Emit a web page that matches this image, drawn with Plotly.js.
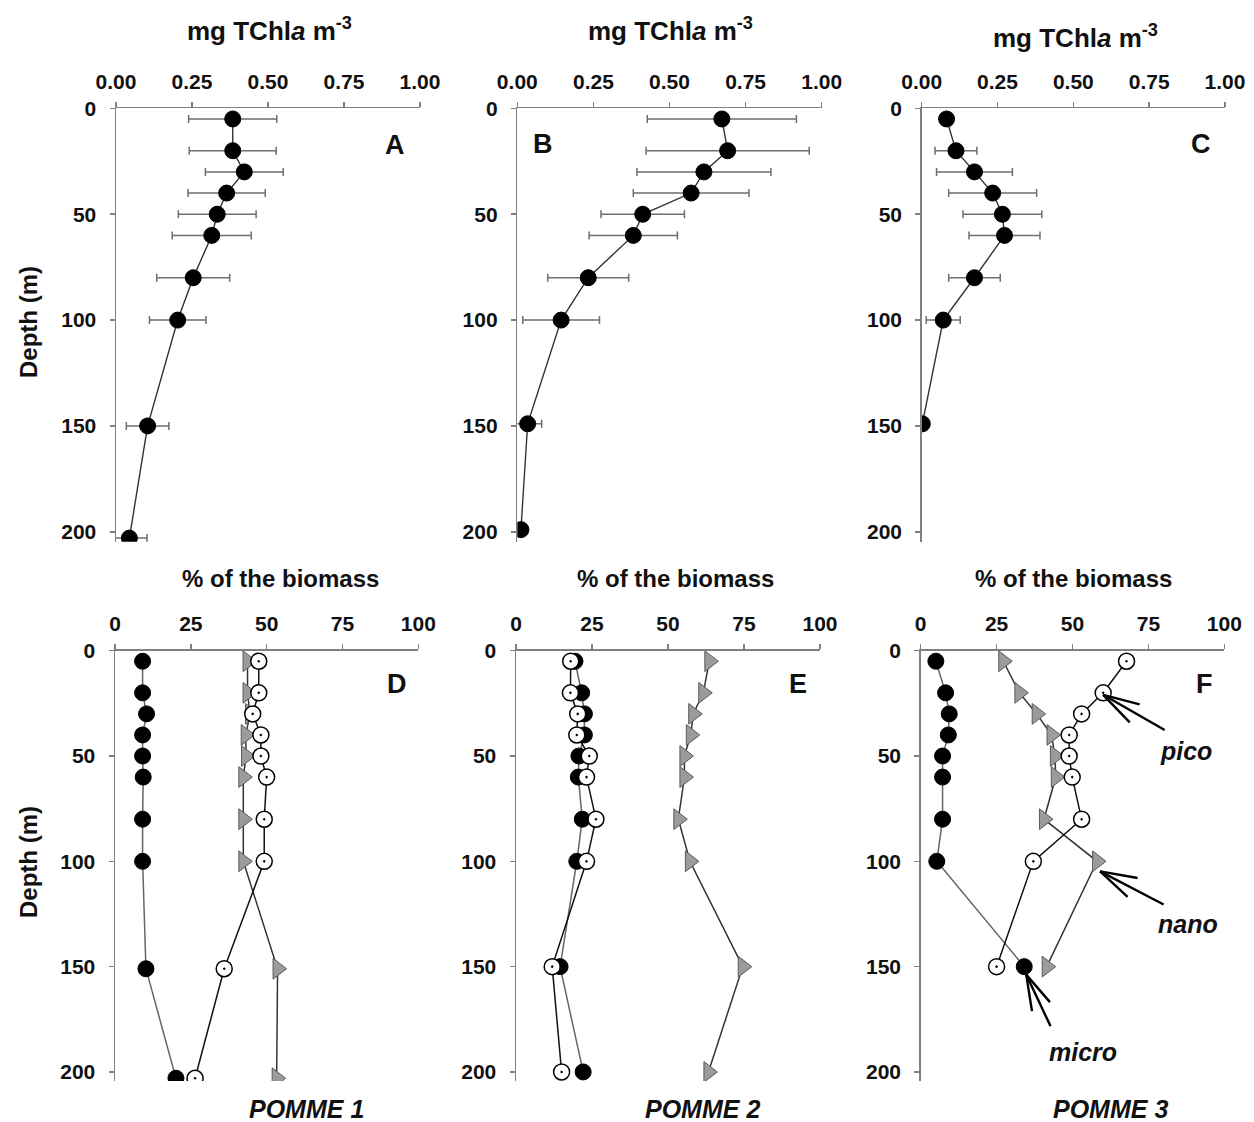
<!DOCTYPE html>
<html>
<head>
<meta charset="utf-8">
<script src="https://cdn.plot.ly/plotly-3.0.1.min.js"></script>
<style>html,body{margin:0;padding:0;background:#fff;}#chart{width:1254px;height:1122px;}</style>
</head>
<body>
<div id="chart"></div>
<script>
// ---------- DATA ----------
// Top row: total chlorophyll a (mg TChla m-3) vs depth (m), mean ± sd
const depthA = [5, 20, 30, 40, 50, 60, 80, 100, 150, 203];
const chlA   = [0.384, 0.384, 0.422, 0.364, 0.333, 0.315, 0.254, 0.203, 0.104, 0.044];
const sdA    = [0.145, 0.143, 0.128, 0.127, 0.128, 0.130, 0.120, 0.093, 0.070, 0.058];

const depthB = [5, 20, 30, 40, 50, 60, 80, 100, 149, 199];
const chlB   = [0.672, 0.691, 0.613, 0.571, 0.412, 0.381, 0.233, 0.144, 0.034, 0.012];
const sdB    = [0.245, 0.268, 0.220, 0.190, 0.137, 0.145, 0.133, 0.126, 0.046, 0];

const depthC = [5, 20, 30, 40, 50, 60, 80, 100, 149];
const chlC   = [0.082, 0.113, 0.174, 0.234, 0.266, 0.273, 0.174, 0.071, 0.002];
const sdC    = [0.020, 0.069, 0.125, 0.145, 0.130, 0.117, 0.085, 0.056, 0];

// Bottom row: % of the biomass (micro, nano, pico) vs depth (m)
const depthD = [5, 20, 30, 40, 50, 60, 80, 100, 151, 203];
const microD = [9.1, 9.1, 10.4, 9.1, 9.1, 9.3, 9.1, 9.1, 10.2, 20.1];
const nanoD  = [43.7, 43.7, 44.5, 43.1, 43.2, 42.3, 42.3, 42.3, 53.6, 53.3];
const picoD  = [47.4, 47.4, 45.4, 48.1, 48.1, 50.0, 49.2, 49.2, 36.0, 26.4];

const depthE = [5, 20, 30, 40, 50, 60, 80, 100, 150, 200];
const microE = [19.4, 21.6, 22.5, 22.5, 20.7, 20.5, 21.8, 20.0, 14.5, 22.1];
const nanoE  = [63.6, 61.6, 58.3, 57.5, 55.4, 55.4, 53.4, 57.2, 74.6, 63.3];
const picoE  = [18.0, 17.9, 20.3, 20.0, 24.1, 23.2, 26.3, 23.2, 11.9, 15.0];

const depthF = [5, 20, 30, 40, 50, 60, 80, 100, 150];
const microF = [5.0, 8.2, 9.4, 9.1, 7.2, 7.2, 7.2, 5.3, 34.1];
const nanoF  = [27.2, 32.5, 38.2, 43.1, 44.2, 44.5, 40.6, 58.1, 41.5];
const picoF  = [67.8, 60.1, 53.0, 48.9, 48.9, 49.9, 53.0, 37.1, 25.0];

const chlTicks = [0, 0.25, 0.5, 0.75, 1.0];
const pctTicks = [0, 25, 50, 75, 100];
const depthTicks = [0, 50, 100, 150, 200];
const panelLetters = ['A', 'B', 'C', 'D', 'E', 'F'];
const stationNames = ['POMME 1', 'POMME 2', 'POMME 3'];
const sizeClassLabels = ['pico', 'nano', 'micro'];

// ---------- STYLE ----------
const FONT = 'Liberation Sans, Arial, sans-serif';
const W = 1254, H = 1122;
const px = v => v / W;
const py = v => 1 - v / H;

const axisBase = {
  showgrid: false, zeroline: false, showline: true,
  linecolor: '#808080', linewidth: 1.5,
  ticks: 'outside', ticklen: 5, tickwidth: 1.5, tickcolor: '#808080',
  tickfont: { family: FONT, size: 21, color: '#111', weight: 'bold' },
  fixedrange: true
};

function xAxis(d0, d1, anchor, tickvals, fmt) {
  return Object.assign({}, axisBase, {
    domain: [px(d0), px(d1)], anchor: anchor, side: 'top',
    range: [tickvals[0], tickvals[tickvals.length - 1]],
    tickmode: 'array', tickvals: tickvals,
    ticktext: tickvals.map(v => fmt(v)),
    ticklabelstandoff: 5
  });
}
function yAxis(top, bottom, anchor, maxDepth) {
  return Object.assign({}, axisBase, {
    domain: [py(bottom), py(top)], anchor: anchor,
    range: [maxDepth, 0],
    tickmode: 'array', tickvals: depthTicks,
    ticklabelstandoff: 9
  });
}

const f2 = v => v.toFixed(2);
const f0 = v => String(v);

const lineDark = '#333';
const circleBlack = { symbol: 'circle', size: 16, color: '#000', line: { color: '#000', width: 1 } };
const circleOpen  = { symbol: 'circle-dot', size: 16, color: '#fff', line: { color: '#000', width: 1.5 } };
const triGray     = { symbol: 'triangle-right', size: 18, color: '#9b9b9b', line: { color: '#5a5a5a', width: 1 } };

function chlTrace(x, y, sd, xa, ya) {
  return {
    type: 'scatter', mode: 'lines+markers', x: x, y: y, xaxis: xa, yaxis: ya,
    line: { color: lineDark, width: 1.4 }, marker: circleBlack,
    error_x: { type: 'data', array: sd, visible: true, color: '#6e6e6e', thickness: 1.5, width: 4 },
    showlegend: false, hoverinfo: 'skip'
  };
}
function sizeTraces(depth, micro, nano, pico, xa, ya) {
  return [
    { type: 'scatter', mode: 'lines+markers', x: nano, y: depth, xaxis: xa, yaxis: ya,
      line: { color: '#333', width: 1.5 }, marker: triGray, showlegend: false, hoverinfo: 'skip' },
    { type: 'scatter', mode: 'lines+markers', x: micro, y: depth, xaxis: xa, yaxis: ya,
      line: { color: '#666', width: 1.5 }, marker: circleBlack, showlegend: false, hoverinfo: 'skip' },
    { type: 'scatter', mode: 'lines+markers', x: pico, y: depth, xaxis: xa, yaxis: ya,
      line: { color: '#111', width: 1.5 }, marker: circleOpen, showlegend: false, hoverinfo: 'skip' }
  ];
}

const data = [
  chlTrace(chlA, depthA, sdA, 'x', 'y'),
  chlTrace(chlB, depthB, sdB, 'x2', 'y2'),
  chlTrace(chlC, depthC, sdC, 'x3', 'y3'),
  ...sizeTraces(depthD, microD, nanoD, picoD, 'x4', 'y4'),
  ...sizeTraces(depthE, microE, nanoE, picoE, 'x5', 'y5'),
  ...sizeTraces(depthF, microF, nanoF, picoF, 'x6', 'y6')
];

// Panel pixel frames
const topY = [108.4, 541.7], botY = [650.7, 1081];
const colA = [116, 420], colB = [517.3, 821.7], colC = [921.7, 1225];
const colD = [115, 418.3], colE = [516, 820], colF = [920.7, 1224.3];
const topMax = 204.7, botMax = 204.3;

const layout = {
  width: W, height: H,
  margin: { l: 0, r: 0, t: 0, b: 0 },
  paper_bgcolor: '#fff', plot_bgcolor: 'rgba(0,0,0,0)',
  showlegend: false,
  xaxis:  xAxis(colA[0], colA[1], 'y',  chlTicks, f2),
  xaxis2: xAxis(colB[0], colB[1], 'y2', chlTicks, f2),
  xaxis3: xAxis(colC[0], colC[1], 'y3', chlTicks, f2),
  xaxis4: xAxis(colD[0], colD[1], 'y4', pctTicks, f0),
  xaxis5: xAxis(colE[0], colE[1], 'y5', pctTicks, f0),
  xaxis6: xAxis(colF[0], colF[1], 'y6', pctTicks, f0),
  yaxis:  yAxis(topY[0], topY[1], 'x',  topMax),
  yaxis2: yAxis(topY[0], topY[1], 'x2', topMax),
  yaxis3: yAxis(topY[0], topY[1], 'x3', topMax),
  yaxis4: yAxis(botY[0], botY[1], 'x4', botMax),
  yaxis5: yAxis(botY[0], botY[1], 'x5', botMax),
  yaxis6: yAxis(botY[0], botY[1], 'x6', botMax),
  annotations: []
};

const ann = layout.annotations;
function txt(text, x, y, size, opts) {
  ann.push(Object.assign({
    text: text, xref: 'paper', yref: 'paper', x: px(x), y: py(y),
    xanchor: 'center', yanchor: 'middle', showarrow: false,
    font: { family: FONT, size: size, color: '#111' }
  }, opts || {}));
}

// Axis titles
const chlTitle = '<b>mg TChl<i>a</i> m<sup>-3</sup></b>';
txt(chlTitle, 269, 30, 26);
txt(chlTitle, 670, 30, 26);
txt(chlTitle, 1075, 37, 26);
const pctTitle = '<b>% of the biomass</b>';
txt(pctTitle, 280, 578, 24);
txt(pctTitle, 675, 578, 24);
txt(pctTitle, 1073, 578, 24);
txt('<b>Depth (m)</b>', 28, 322, 24, { textangle: -90 });
txt('<b>Depth (m)</b>', 28, 862, 24, { textangle: -90 });

// Panel letters
const letterPos = [[395, 145], [543, 144], [1201, 144], [397, 684], [798, 684], [1204, 684]];
panelLetters.forEach((L, i) => txt('<b>' + L + '</b>', letterPos[i][0], letterPos[i][1], 27));

// Station names
const stationPos = [[306, 1109], [703, 1109], [1110, 1109]];
stationNames.forEach((s, i) => txt('<b><i>' + s + '</i></b>', stationPos[i][0], stationPos[i][1], 25));

// Size class labels
const labelPos = [[1186, 751], [1188, 924], [1083, 1052]];
sizeClassLabels.forEach((s, i) => txt('<b><i>' + s + '</i></b>', labelPos[i][0], labelPos[i][1], 25));

// Arrows pointing at data points of panel F (shaft + two barbs)
function arrow(xv, yv, xs, ys, offsets) {
  offsets.forEach(o => ann.push({
    text: '', xref: 'x6', yref: 'y6', x: xv, y: yv, xshift: xs, yshift: ys,
    ax: o[0], ay: o[1], showarrow: true, arrowhead: 0, arrowwidth: 2.4,
    arrowcolor: '#000', standoff: 0, startstandoff: 0
  }));
}
arrow(picoF[1], depthF[1], 0, -2, [[38, 10], [28, 29], [63, 36]]);
arrow(nanoF[7], depthF[7], 3, -10, [[39, 7], [29, 27], [65, 34]]);
arrow(microF[8], depthF[8], 2, -8, [[25, 29], [6, 38], [25, 53]]);

Plotly.newPlot('chart', data, layout, { displayModeBar: false, staticPlot: true });
</script>
</body>
</html>
